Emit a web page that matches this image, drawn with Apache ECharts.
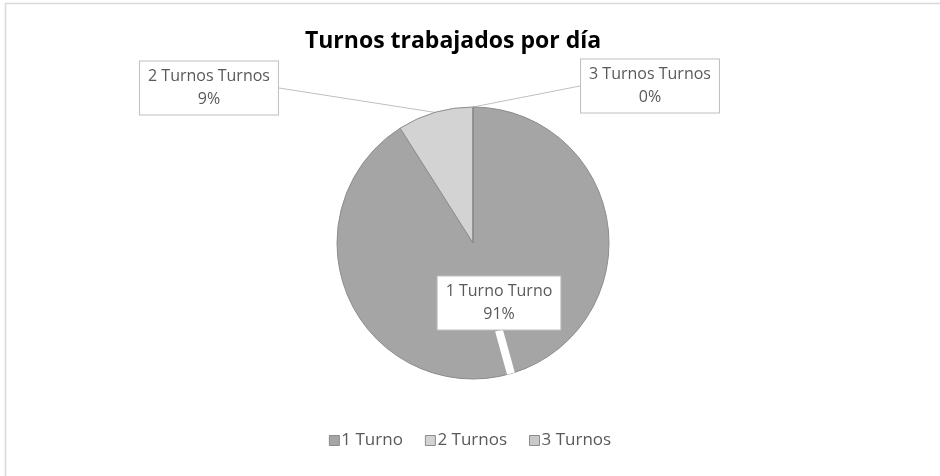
<!DOCTYPE html>
<html>
<head>
<meta charset="utf-8">
<script src="https://cdn.jsdelivr.net/npm/echarts@6/dist/echarts.min.js"></script>
<style>
  html, body { margin: 0; padding: 0; background: #fff; }
  #chart { width: 940px; height: 476px; }
</style>
</head>
<body>
<div id="chart"></div>
<script>
  // datos
  var categorias = ['1 Turno', '2 Turnos', '3 Turnos']
  var valores = [91, 9, 0]
  var colores = ['#a5a5a5', '#d3d3d3', '#c9c9c9']
  // centro de cada cuadro de etiqueta
  var etiquetasPos = [[499, 303], [209, 88], [650, 86]]

  var chart = echarts.init(document.getElementById('chart'))
  var datos = []
  for (var i = 0; i < categorias.length; i++) {
    datos.push({ name: categorias[i], value: valores[i], itemStyle: { color: colores[i] } })
  }
  // la etiqueta de 1 Turno va dentro del sector con una punta blanca
  datos[0].labelLine = { showAbove: true, lineStyle: { color: '#ffffff', width: 8 } }

  var option = {
    animation: false,
    title: {
      text: 'Turnos trabajados por día',
      left: 448, top: 25, textAlign: 'center',
      textStyle: { fontFamily: 'Open Sans', fontWeight: 'bold', fontSize: 23, color: '#000' }
    },
    legend: {
      data: categorias,
      bottom: 22, left: 'center',
      itemWidth: 10, itemHeight: 10, itemGap: 22,
      icon: 'rect',
      textStyle: { fontFamily: 'Open Sans', fontSize: 17, color: '#595959', padding: [0, 0, 0, -3] },
      itemStyle: { borderColor: '#8c8c8c', borderWidth: 1 }
    },
    graphic: [{
      type: 'rect', silent: true,
      shape: { x: 5.5, y: 3.5, width: 960, height: 500 },
      style: { fill: 'none', stroke: '#d9d9d9', lineWidth: 1.5 }
    }],
    series: [{
      type: 'pie',
      center: [473, 243],
      radius: 136,
      startAngle: 90,
      clockwise: true,
      data: datos,
      itemStyle: { borderColor: '#8c8c8c', borderWidth: 1 },
      label: {
        show: true,
        formatter: function (p) {
          return p.name + ' ' + p.name.split(' ')[1] + '\n' + Math.round(p.percent) + '%'
        },
        fontFamily: 'Open Sans', fontSize: 16, color: '#595959',
        lineHeight: 23,
        backgroundColor: '#ffffff', borderColor: '#bfbfbf', borderWidth: 1,
        padding: [4, 8, 3, 8]
      },
      labelLine: { show: true, length: 10, length2: 0, lineStyle: { color: '#bfbfbf', width: 1 } },
      labelLayout: function (p) {
        var pos = etiquetasPos[p.dataIndex]
        return { x: pos[0], y: pos[1], align: 'center', verticalAlign: 'middle' }
      },
      emphasis: { disabled: true }
    }]
  }
  chart.setOption(option)
</script>
</body>
</html>
